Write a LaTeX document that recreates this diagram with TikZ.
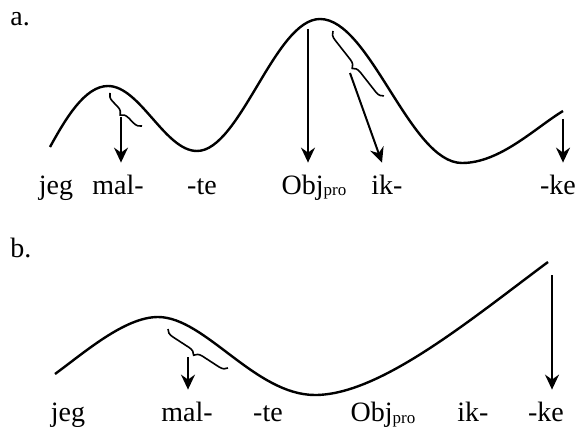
\documentclass[tikz,border=0pt]{standalone}
\usepackage{fontspec}
\setmainfont{Liberation Serif}
\usetikzlibrary{decorations.pathreplacing, arrows.meta}

\newcommand{\subpro}{\raisebox{-1pt}{\fontsize{8.5}{10}\selectfont pro}}

\begin{document}
\begin{tikzpicture}[>={Stealth[length=7.5pt, width=7pt, inset=2.5pt]}, x=0.5pt, y=-0.5pt,
        palabra/.style={anchor=base, inner xsep=0pt, inner ysep=0pt, text height=15.5pt, font=\fontsize{14}{17}\selectfont},
        curva/.style={line width=1.2pt},
        flecha/.style={->, line width=1pt},
        llave/.style={decorate, decoration={brace, mirror, amplitude=4pt}, line width=0.8pt}]
        \useasboundingbox (0,0) rectangle (577,427);

        % Etiquetas
        \node[palabra, anchor=base west] (a) at (10,26) {a.};
        \node[palabra, anchor=base west] (b) at (10,257) {b.};

        % Fila a
        \node[palabra] (jegA) at (56,194) {jeg};
        \node[palabra] (malA) at (118,194) {mal-};
        \node[palabra] (teA) at (202,194) {-te};
        \node[palabra] (objA) at (314,194) {Obj\subpro};
        \node[palabra] (ikA) at (387,194) {ik-};
        \node[palabra] (keA) at (558,194) {-ke};

        % Fila b
        \node[palabra] (jegB) at (68,421) {jeg};
        \node[palabra] (malB) at (187,421) {mal-};
        \node[palabra] (teB) at (268,421) {-te};
        \node[palabra] (objB) at (383,421) {Obj\subpro};
        \node[palabra] (ikB) at (473,421) {ik-};
        \node[palabra] (keB) at (546,421) {-ke};

        % Curvas
        \draw[curva] (50,147) .. controls (66,118) and (85,86) .. (108,86)
            .. controls (140,86) and (165,151) .. (197,151)
            .. controls (240,151) and (275,19) .. (320,19)
            .. controls (370,19) and (410,163) .. (462,163)
            .. controls (500,163) and (535,128) .. (563,111);
        \draw[curva] (55,374) .. controls (85,352) and (125,317) .. (158,317)
            .. controls (205,317) and (255,395) .. (315,395)
            .. controls (380,395) and (470,320) .. (548,262);

        % Llaves
        \draw[llave] (110,93) -- (142,126);
        \draw[llave] (333,31) -- (384,96);
        \draw[llave] (168,329) -- (228,368);

        % Flechas
        \coordinate (pMalA) at (121,117);
        \coordinate (pObjA) at (308,29);
        \coordinate (pIkA) at (350,73);
        \coordinate (pKeA) at (563,119);
        \coordinate (pMalB) at (188,357);
        \coordinate (pKeB) at (552,275);
        \draw[flecha] (pMalA) -- (pMalA |- malA.north);
        \draw[flecha] (pObjA) -- (pObjA |- objA.north);
        \draw[flecha] (pIkA) -- ([xshift=-2.5pt]ikA.north);
        \draw[flecha] (pKeA) -- (pKeA |- keA.north);
        \draw[flecha] (pMalB) -- (pMalB |- malB.north);
        \draw[flecha] (pKeB) -- (pKeB |- keB.north);

    \end{tikzpicture}
\end{document}
